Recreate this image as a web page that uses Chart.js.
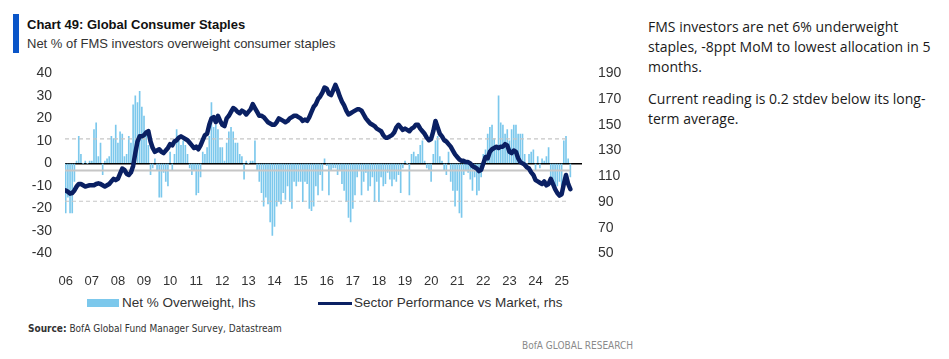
<!DOCTYPE html>
<html>
<head>
<meta charset="utf-8">
<script src="https://cdn.jsdelivr.net/npm/chart.js@4.4.1/dist/chart.umd.min.js"></script>
<style>
  body { margin: 0; width: 949px; height: 359px; background: #fff; position: relative; overflow: hidden;
         font-family: "Liberation Sans", Arial, sans-serif; color: #222; }
  #accent { position: absolute; left: 13px; top: 14px; width: 6px; height: 39px; background: #0a55c8; }
  #title { position: absolute; left: 27px; top: 17px; font-size: 13px; font-weight: bold; color: #111; white-space: nowrap; }
  #subtitle { position: absolute; left: 27px; top: 36px; font-size: 13px; color: #333; white-space: nowrap; }
  #chartBox { position: absolute; left: 0; top: 0; width: 640px; height: 290px; }
  .leg { position: absolute; font-size: 13.5px; color: #333; white-space: nowrap; line-height: 16px; }
  #legBar { position: absolute; left: 87px; top: 299px; width: 32px; height: 8px; background: #7cc8ec; }
  #legLine { position: absolute; left: 318px; top: 302px; width: 34px; height: 3px; background: #0a2063; }
  #source { position: absolute; left: 28px; top: 323px; font-size: 10px; color: #333; white-space: nowrap;
            font-family: "Liberation Sans Narrow", "DejaVu Sans Condensed", "Liberation Sans", sans-serif; }
  #brand { position: absolute; left: 522px; top: 340px; font-size: 10px; color: #8a8a8a; white-space: nowrap;
           font-family: "Liberation Sans Narrow", "DejaVu Sans Condensed", "Liberation Sans", sans-serif; }
  #notes { position: absolute; left: 648px; top: 17px; font-family: "Open Sans", sans-serif; font-size: 14px;
           line-height: 20px; color: #1a1a1a; white-space: nowrap; }
  #notes p { margin: 0 0 12px 0; }
</style>
</head>
<body>
<div id="accent"></div>
<div id="title">Chart 49: Global Consumer Staples</div>
<div id="subtitle">Net % of FMS investors overweight consumer staples</div>
<div id="chartBox"><canvas id="chart" width="640" height="290"></canvas></div>
<div id="legBar"></div>
<div class="leg" style="left:122px; top:295px;">Net % Overweight, lhs</div>
<div id="legLine"></div>
<div class="leg" style="left:354px; top:295px;">Sector Performance vs Market, rhs</div>
<div id="source"><b>Source:</b> BofA Global Fund Manager Survey, Datastream</div>
<div id="brand">BofA GLOBAL RESEARCH</div>
<div id="notes">
  <p>FMS investors are net 6% underweight<br>staples, -8ppt MoM to lowest allocation in 5<br>months.</p>
  <p>Current reading is 0.2 stdev below its long-<br>term average.</p>
</div>

<script>
// --- Data (monthly, Jan 2006 - May 2025) ---
const startYear = 2006;
const yearTicks = [2006, 2007, 2008, 2009, 2010, 2011, 2012, 2013, 2014, 2015,
                   2016, 2017, 2018, 2019, 2020, 2021, 2022, 2023, 2024, 2025];

// Net % overweight, lhs
const netOverweight = [
  -22, -15, -22, -22, -8, 1, 12, 4, 0, 1, 0, 1,          // 2006
  1, 15, 18, 3, 9, -5, 1, 2, 3, 12, 11, 17,              // 2007
  9, 14, 13, 3, 4, 12, 9, 26, 30, 27, 32, 25,            // 2008
  21, 14, 8, -5, -2, 2, -3, -15, -15, -4, -8, -10,       // 2009
  5, -3, 4, 15, 10, 8, 10, 8, 4, -2, -5, -3,             // 2010
  -14, -13, -6, 5, 4, 7, 12, 27, 16, 17, 15, 7,          // 2011
  7, 1, 9, 14, 16, 14, 9, 9, 4, 3, -7, 1,                // 2012
  0, 1, 1, 10, -3, -8, -13, -19, -15, -18, -26, -32,     // 2013
  -28, -19, -17, -18, -13, -16, -10, -17, -20, -8, -10, -8, // 2014
  -8, -17, -8, -9, -20, -21, -19, -10, -14, -5, -12, 2,  // 2015
  -1, -14, -3, -2, -2, -5, -3, -9, -12, -17, -24, -26,   // 2016
  -20, -14, -6, -3, -14, -8, -4, -12, -10, -6, -17, -8,  // 2017
  -17, -6, -10, -9, -4, -7, -10, -7, -8, -5, -13, -2,    // 2018
  1, 0, -14, 4, 5, 3, 4, 8, 10, 1, -2, -3,               // 2019
  -8, 4, 10, 12, 3, 1, -3, -5, 5, -8, -12, -19,          // 2020
  -12, -22, -24, -5, -3, -4, -7, -12, -6, -14, -12, -6,  // 2021
  4, 6, 13, 16, 17, 11, 7, 30, 18, 17, 13, 15,           // 2022
  10, 15, 17, 17, 13, 13, 13, 4, 0, 4, 5, 6,             // 2023
  -3, 3, -2, 2, 1, 3, 7, -8, -8, -12, -10, -8,           // 2024
  -10, 10, 12, 2, -6                                     // 2025
];

// Sector performance vs market, rhs
const sectorPerformance = [
  99, 98, 96.5, 97, 99, 102, 104, 104, 103, 102, 102.5, 103,   // 2006
  103, 103, 104, 104.5, 104, 103, 102, 103, 104, 106, 108, 107, // 2007
  108, 112, 116, 115, 112, 111, 113, 118, 128, 137, 141, 141,  // 2008
  142, 144, 145, 137, 132, 129, 130, 131, 129, 128, 130, 132,  // 2009
  135, 134, 137, 138, 140, 141, 140, 139, 138, 136, 134, 132,  // 2010
  133, 131, 134, 138, 142, 143, 150, 155, 156, 152, 157, 153,  // 2011
  150, 149, 155, 157, 160, 163, 162, 160, 159, 161, 160, 158,  // 2012
  160, 162, 166, 163, 160, 157, 157, 156, 154, 152, 151, 150,  // 2013
  150, 152, 155, 154, 153, 152, 153, 155, 156, 157, 157, 156,  // 2014
  155, 153, 154, 153, 156, 160, 164, 166, 170, 172, 175, 179,  // 2015
  178, 174, 173, 177, 181, 177, 172, 168, 165, 161, 158, 159,  // 2016
  160, 161, 162, 162, 161, 158, 155, 153, 151, 150, 149, 147,  // 2017
  146, 145, 142, 140, 140, 141, 142, 144, 148, 150, 148, 146,  // 2018
  147, 146, 145, 147, 148, 150, 150, 147, 145, 143, 140, 138,  // 2019
  139, 145, 153, 148, 143, 141, 138, 137, 135, 133, 130, 127,  // 2020
  125, 123, 122, 122, 121, 121, 120, 118, 117, 116, 114, 115,  // 2021
  120, 125, 124, 129, 131, 132, 133, 132, 133, 133, 135, 134,  // 2022
  129, 128, 130, 129, 124, 121, 120, 119, 117, 116, 113, 111,  // 2023
  107, 106, 105, 104, 106, 103, 104, 108, 104, 100, 97, 95,    // 2024
  96, 104, 111, 104, 100                                       // 2025
];

// long-term average and +/- 1 stdev of net % overweight
const longTermAvg = -3.2;
const upperBand = 10.9;
const lowerBand = -16.8;

// --- Helpers ---
const monthX = (i) => startYear + i / 12;
const xMin = 2005.973;
const xMax = 2025.78;
const avgEnd = 2025.33;
const bandEnd = 2025.25;

const barColor = "#7cc8ec";
const navy = "#0a2063";
const refGray = "#c6c6c6";
const tickFont = { family: "Liberation Sans", size: 14 };

const hLine = (level, end, dash, width) => ({
  type: "line",
  yAxisID: "y",
  data: [{ x: xMin, y: level }, { x: end, y: level }],
  borderColor: refGray,
  borderWidth: width,
  borderDash: dash,
  pointRadius: 0,
  order: 1,
});

const ctx = document.getElementById("chart").getContext("2d");
new Chart(ctx, {
  type: "bar",
  data: {
    datasets: [
      {
        type: "line",
        label: "Sector Performance vs Market, rhs",
        yAxisID: "y2",
        data: sectorPerformance.map((v, i) => ({ x: monthX(i), y: v })),
        borderColor: navy,
        borderWidth: 4.5,
        borderJoinStyle: "round",
        borderCapStyle: "round",
        pointRadius: 0,
        tension: 0,
        order: 0,
      },
      hLine(longTermAvg, avgEnd, [], 2),
      hLine(upperBand, bandEnd, [4, 3], 1.2),
      hLine(lowerBand, bandEnd, [4, 3], 1.2),
      {
        label: "Net % Overweight, lhs",
        yAxisID: "y",
        data: netOverweight.map((v, i) => ({ x: monthX(i), y: v })),
        backgroundColor: barColor,
        barThickness: 1,
        order: 2,
      },
    ],
  },
  options: {
    responsive: false,
    animation: false,
    layout: { padding: { top: 73.3, bottom: 0, left: 0, right: 0 } },
    plugins: { legend: { display: false }, tooltip: { enabled: false } },
    scales: {
      x: {
        type: "linear",
        min: xMin,
        max: xMax,
        offset: false,
        grid: { display: false, offset: false },
        border: { display: false },
        afterBuildTicks: (scale) => { scale.ticks = yearTicks.map((v) => ({ value: v })); },
        afterFit: (scale) => { scale.height = 36.5; },
        ticks: {
          autoSkip: false,
          maxRotation: 0,
          padding: 12,
          color: "#333",
          font: { family: "Liberation Sans", size: 13 },
          callback: (v) => String(v).slice(2),
        },
      },
      y: {
        position: "left",
        min: -40,
        max: 40,
        border: { display: false },
        grid: {
          drawTicks: false,
          color: (c) => (c.tick && c.tick.value === 0 ? "#000" : "rgba(0,0,0,0)"),
          lineWidth: 1.5,
        },
        afterFit: (scale) => { scale.width = 65; },
        ticks: { stepSize: 10, padding: 13, color: "#333", font: tickFont },
      },
      y2: {
        position: "right",
        min: 50,
        max: 190,
        border: { display: false },
        grid: { display: false, drawTicks: false },
        afterFit: (scale) => { scale.width = 58; },
        ticks: { stepSize: 20, padding: 16, color: "#333", font: tickFont },
      },
    },
  },
});
</script>
</body>
</html>
